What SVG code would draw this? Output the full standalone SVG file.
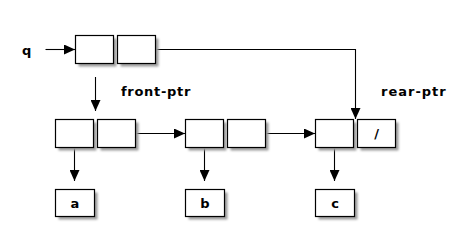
<svg xmlns="http://www.w3.org/2000/svg" width="470" height="252" viewBox="0 0 470 252">
  <defs>
    <marker id="arrow" markerWidth="11" markerHeight="10" refX="11" refY="5" orient="auto" markerUnits="userSpaceOnUse">
      <path d="M0,0 L11,5 L0,10 Z" fill="#000"/>
    </marker>
    <filter id="shadow" x="-20%" y="-20%" width="150%" height="150%">
      <feGaussianBlur stdDeviation="1.2"/>
    </filter>
  </defs>
  <style>
    .box { fill: #fff; stroke: #000; stroke-width: 1.2; }
    .shade { fill: #9a9a9a; filter: url(#shadow); }
    .edge { fill: none; stroke: #000; stroke-width: 1.1; marker-end: url(#arrow); }
    .label { font-family: "DejaVu Sans", sans-serif; font-weight: bold; font-size: 13px; fill: #000; }
    .val { font-family: "DejaVu Sans", sans-serif; font-weight: bold; font-size: 13px; fill: #000; text-anchor: middle; }
  </style>
  <rect width="470" height="252" fill="#fff"/>

  <!-- pointer labels -->
  <text class="label" x="22" y="55">q</text>
  <text class="label" x="121" y="96" letter-spacing="0.7">front-ptr</text>
  <text class="label" x="381" y="96" letter-spacing="1">rear-ptr</text>

  <!-- connectors -->
  <g id="connectors">
    <path class="edge" d="M45.5,49.5 H75"/>
    <path class="edge" d="M95.5,77 V111"/>
    <path class="edge" d="M155.5,49.5 H355.5 V119"/>
    <path class="edge" d="M135.5,133.5 H185"/>
    <path class="edge" d="M265.5,133.5 H315"/>
    <path class="edge" d="M74.5,147.5 V181"/>
    <path class="edge" d="M204.5,147.5 V181"/>
    <path class="edge" d="M334.5,147.5 V181"/>
  </g>

  <!-- queue header pair -->
  <g id="q-pair">
    <rect class="shade" x="78.5" y="38.5" width="38" height="28"/>
    <rect class="shade" x="120.5" y="38.5" width="38" height="28"/>
    <rect class="box" x="75.5" y="35.5" width="38" height="28"/>
    <rect class="box" x="117.5" y="35.5" width="38" height="28"/>
  </g>

  <!-- list pairs -->
  <g id="pair-a">
    <rect class="shade" x="58.5" y="122.5" width="38" height="28"/>
    <rect class="shade" x="100.5" y="122.5" width="38" height="28"/>
    <rect class="box" x="55.5" y="119.5" width="38" height="28"/>
    <rect class="box" x="97.5" y="119.5" width="38" height="28"/>
  </g>
  <g id="pair-b">
    <rect class="shade" x="188.5" y="122.5" width="38" height="28"/>
    <rect class="shade" x="230.5" y="122.5" width="38" height="28"/>
    <rect class="box" x="185.5" y="119.5" width="38" height="28"/>
    <rect class="box" x="227.5" y="119.5" width="38" height="28"/>
  </g>
  <g id="pair-c">
    <rect class="shade" x="318.5" y="122.5" width="38" height="28"/>
    <rect class="shade" x="360.5" y="122.5" width="38" height="28"/>
    <rect class="box" x="315.5" y="119.5" width="38" height="28"/>
    <rect class="box" x="357.5" y="119.5" width="38" height="28"/>
    <text class="val" x="376.5" y="138">/</text>
  </g>

  <!-- values -->
  <g id="val-a">
    <rect class="shade" x="58.5" y="192.5" width="39" height="27"/>
    <rect class="box" x="55.5" y="189.5" width="39" height="27"/>
    <text class="val" x="75" y="208">a</text>
  </g>
  <g id="val-b">
    <rect class="shade" x="188.5" y="192.5" width="39" height="27"/>
    <rect class="box" x="185.5" y="189.5" width="39" height="27"/>
    <text class="val" x="205" y="208">b</text>
  </g>
  <g id="val-c">
    <rect class="shade" x="318.5" y="192.5" width="39" height="27"/>
    <rect class="box" x="315.5" y="189.5" width="39" height="27"/>
    <text class="val" x="335" y="208">c</text>
  </g>
</svg>
